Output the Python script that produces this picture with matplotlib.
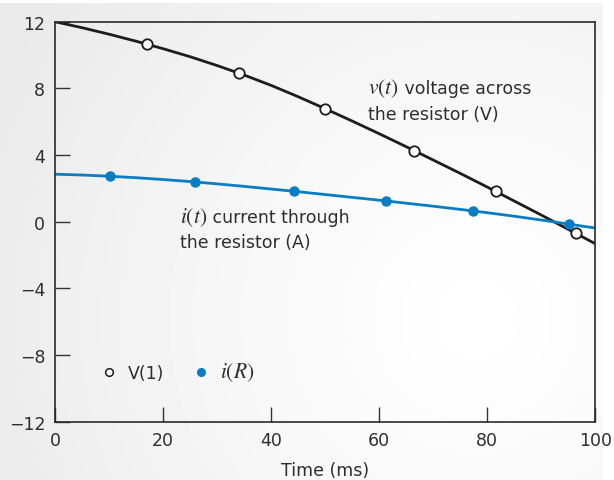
import numpy as np
import matplotlib.pyplot as plt
from matplotlib.lines import Line2D
from matplotlib.offsetbox import TextArea, HPacker, VPacker, AnnotationBbox

plt.rcParams['font.family'] = ['DejaVu Sans']
plt.rcParams['mathtext.fontset'] = 'stix'

# curve readings (every 5 ms)
t_curve = [0, 5, 10, 15, 20, 25, 30, 35, 40, 45, 50,
           55, 60, 65, 70, 75, 80, 85, 90, 95, 100]
v_curve = [12.0, 11.64, 11.25, 10.83, 10.38, 9.90, 9.37, 8.80, 8.18, 7.50, 6.78,
           6.04, 5.28, 4.50, 3.70, 2.90, 2.08, 1.24, 0.40, -0.46, -1.32]
i_curve = [2.85, 2.80, 2.73, 2.64, 2.53, 2.41, 2.27, 2.12, 1.96, 1.80, 1.63,
           1.46, 1.29, 1.11, 0.93, 0.74, 0.54, 0.33, 0.10, -0.14, -0.38]

# simulation points shown as markers
t_v = [17.0, 34.1, 49.9, 66.5, 81.6, 96.4]
v_pts = [10.66, 8.94, 6.76, 4.24, 1.84, -0.70]
t_i = [10.2, 25.9, 44.3, 61.3, 77.4, 95.2]
i_pts = [2.72, 2.40, 1.82, 1.26, 0.64, -0.12]

x_ticks = [0, 20, 40, 60, 80, 100]
y_ticks = [-12, -8, -4, 0, 4, 8, 12]

blue = '#0a7cc4'
dark = '#1c1c1c'
txt = '#2e2e2e'


def two_line_label(sym, rest, line2):
    # math symbol is set a bit larger so it matches the sans text
    top = HPacker(children=[TextArea(sym, textprops=dict(fontsize=15.5, color=txt)),
                            TextArea(rest, textprops=dict(fontsize=12.5, color=txt))],
                  align='baseline', pad=0, sep=0)
    bot = TextArea(line2, textprops=dict(fontsize=12.5, color=txt))
    return VPacker(children=[top, bot], align='left', pad=0, sep=4)


fig = plt.figure(figsize=(6.14, 4.81), dpi=100)

# soft radial gray background panel
bg = fig.add_axes([0, 0, 603 / 614, 477 / 481], zorder=-5)
yy, xx = np.mgrid[0:477, 0:603]
r = np.hypot(xx - 475, yy - 316) / 540
shade = 1 - 0.085 * np.clip(r, 0, 1) ** 1.2
bg.imshow(shade, cmap='gray', vmin=0, vmax=1, aspect='auto')
bg.axis('off')

ax = fig.add_axes([55 / 614, 58.3 / 481, 540.3 / 614, 400 / 481])
ax.set_facecolor('none')

ax.plot(t_curve, v_curve, color=dark, lw=2.0, zorder=2, solid_capstyle='butt')
ax.plot(t_curve, i_curve, color=blue, lw=2.0, zorder=2, solid_capstyle='butt')
ax.plot(t_v, v_pts, 'o', ms=7.5, mfc='white', mec=dark, mew=1.3, zorder=4)
ax.plot(t_i, i_pts, 'o', ms=6.5, mfc=blue, mec=blue, zorder=4)

ax.set_xlim(0, 100)
ax.set_ylim(-12, 12)
ax.set_xticks(x_ticks)
ax.set_yticks(y_ticks)
ax.set_yticklabels(['\u221212', '\u22128', '\u22124', '0', '4', '8', '12'])
ax.tick_params(direction='in', length=11, width=1.0, color='#333333',
               labelsize=12.5, labelcolor=txt, pad=7)
for s in ax.spines.values():
    s.set_linewidth(1.2)
    s.set_color('#2a2a2a')

ax.set_xlabel('Time (ms)', fontsize=12.5, color=txt, labelpad=8)

for sym, rest, line2, pos in [('$v(t)$', ' voltage across', 'the resistor (V)', (57.9, 7.32)),
                              ('$i(t)$', ' current through', 'the resistor (A)', (23.1, -0.39))]:
    ab = AnnotationBbox(two_line_label(sym, rest, line2), pos, xycoords='data',
                        box_alignment=(0, 0.5), frameon=False, pad=0)
    ax.add_artist(ab)

handles = [
    Line2D([], [], ls='none', marker='o', ms=5.5, mfc='white', mec=dark, mew=1.1),
    Line2D([], [], ls='none', marker='o', ms=5.5, mfc=blue, mec=blue),
]
leg = ax.legend(handles, ['V(1)', '$i(R)$'], ncol=2, frameon=False, loc='center left',
                bbox_to_anchor=(0.089, 0.124), fontsize=12.5, handlelength=0.7,
                handletextpad=0.75, columnspacing=1.75, borderpad=0, borderaxespad=0,
                labelcolor=txt)
leg.get_texts()[1].set_fontsize(15.5)

fig.savefig('out.png', dpi=100)
